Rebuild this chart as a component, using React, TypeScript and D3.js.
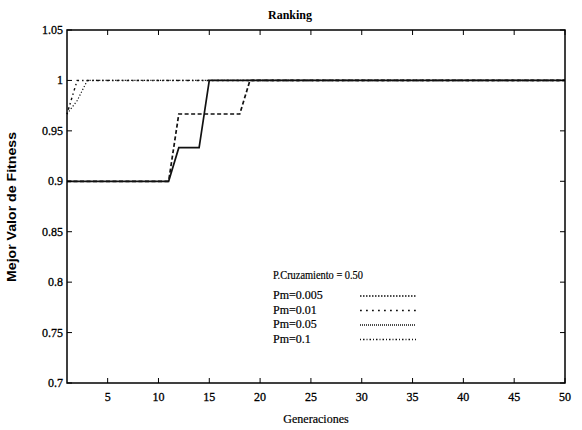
import React from "react";
import * as d3 from "d3";

const W = 582;
const H = 430;
const M = { left: 67, right: 565, top: 30, bottom: 383 };

const title = "Ranking";
const xLabel = "Generaciones";
const yLabel = "Mejor Valor de Fitness";
const xTicks = [5, 10, 15, 20, 25, 30, 35, 40, 45, 50];
const yTicks = [0.7, 0.75, 0.8, 0.85, 0.9, 0.95, 1, 1.05];
const yTickLabels = ["0.7", "0.75", "0.8", "0.85", "0.9", "0.95", "1", "1.05"];

// [generation, best fitness] at change points
const pm005: [number, number][] = [[1, 0.9], [11, 0.9], [12, 0.9333], [14, 0.9333], [15, 1], [50, 1]];
const pm01: [number, number][] = [[1, 0.9], [11, 0.9], [12, 0.9667], [18, 0.9667], [19, 1], [50, 1]];
const pm05: [number, number][] = [[1, 0.9667], [2, 0.98], [3, 1], [50, 1]];
const pm1: [number, number][] = [[1, 0.9667], [2, 1], [50, 1]];

const legendTitle = "P.Cruzamiento = 0.50";
const seriesNames = ["Pm=0.005", "Pm=0.01", "Pm=0.05", "Pm=0.1"];
const seriesData = [pm005, pm01, pm05, pm1];
const plotDash = ["none", "4,2.5", "1.2,2", "1.5,3,2.5,3"];
const plotWidth = [1.7, 1.7, 1.2, 1.4];
const legendDash = ["1.5,1.5", "1.8,4.2", "1,1", "1,2,1.5,2"];

export default function App() {
  const x = d3.scaleLinear().domain([1, 50]).range([M.left, M.right]);
  const y = d3.scaleLinear().domain([0.7, 1.05]).range([M.bottom, M.top]);
  const line = d3
    .line<[number, number]>()
    .x((d) => x(d[0]))
    .y((d) => y(d[1]));
  const font = "'Liberation Serif', 'DejaVu Serif', serif";
  const sans = "'Liberation Sans', Arial, sans-serif";
  const tl = 5;
  return (
    <svg width={W} height={H} style={{ position: "absolute", left: 0, top: 0, background: "#fff" }}>
      <rect x={0} y={0} width={W} height={H} fill="#fff" />
      {seriesData.map((s, i) => (
        <path
          key={i}
          d={line(s) || ""}
          fill="none"
          stroke="#111"
          strokeWidth={plotWidth[i]}
          strokeDasharray={plotDash[i]}
        />
      ))}
      <rect
        x={M.left}
        y={M.top}
        width={M.right - M.left}
        height={M.bottom - M.top}
        fill="none"
        stroke="#000"
        strokeWidth={1.5}
      />
      {xTicks.map((t) => (
        <g key={"x" + t}>
          <line x1={x(t)} x2={x(t)} y1={M.bottom} y2={M.bottom - tl} stroke="#000" strokeWidth={1} />
          <line x1={x(t)} x2={x(t)} y1={M.top} y2={M.top + tl} stroke="#000" strokeWidth={1} />
          <text x={x(t)} y={M.bottom + 18} textAnchor="middle" fontFamily={font} fontSize={12} fill="#000" stroke="#000" strokeWidth={0.3}>
            {t}
          </text>
        </g>
      ))}
      {yTicks.map((t, i) => (
        <g key={"y" + t}>
          <line x1={M.left} x2={M.left + tl} y1={y(t)} y2={y(t)} stroke="#000" strokeWidth={1} />
          <line x1={M.right} x2={M.right - tl} y1={y(t)} y2={y(t)} stroke="#000" strokeWidth={1} />
          <text x={M.left - 4} y={y(t) + 4} textAnchor="end" fontFamily={font} fontSize={12} fill="#000" stroke="#000" strokeWidth={0.3}>
            {yTickLabels[i]}
          </text>
        </g>
      ))}
      <text x={290} y={19} textAnchor="middle" fontFamily={font} fontSize={12} fontWeight="bold" fill="#000">
        {title}
      </text>
      <text x={316} y={423} textAnchor="middle" fontFamily={font} fontSize={12} fill="#000" stroke="#000" strokeWidth={0.2}>
        {xLabel}
      </text>
      <text
        transform={`translate(16, 207) rotate(-90)`}
        textAnchor="middle"
        fontFamily={sans}
        fontSize={12}
        fontWeight="bold"
        textLength={150}
        lengthAdjust="spacingAndGlyphs"
        fill="#000"
      >
        {yLabel}
      </text>
      <text x={273} y={279} fontFamily={font} fontSize={12.5} fill="#000" textLength={90} lengthAdjust="spacingAndGlyphs" stroke="#000" strokeWidth={0.2}>
        {legendTitle}
      </text>
      {seriesNames.map((n, i) => (
        <g key={n}>
          <text x={273} y={299 + i * 14.5} fontFamily={font} fontSize={12} fill="#000" stroke="#000" strokeWidth={0.2}>
            {n}
          </text>
          <line
            x1={360}
            x2={416}
            y1={296 + i * 14.5}
            y2={296 + i * 14.5}
            stroke="#111"
            strokeWidth={1.3}
            strokeDasharray={legendDash[i]}
          />
        </g>
      ))}
    </svg>
  );
}
